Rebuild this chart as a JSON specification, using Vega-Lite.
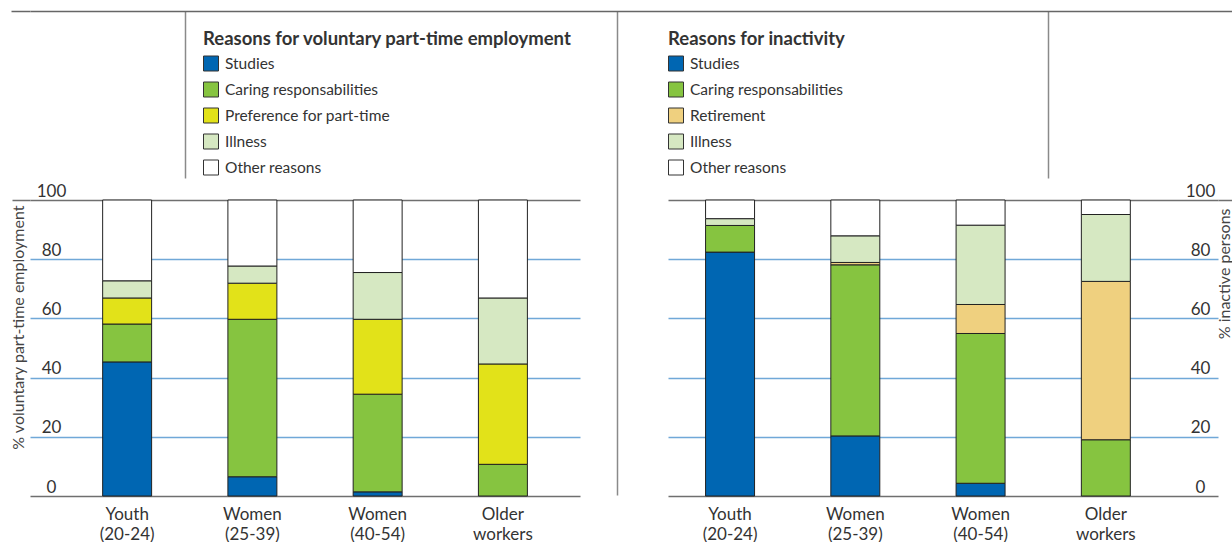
{
  "$schema": "https://vega.github.io/schema/vega-lite/v6.json",
  "padding": {"left": 9, "top": 10, "right": 0, "bottom": 0},
  "autosize": {"type": "pad"},
  "bounds": "flush",
  "spacing": 22,
  "background": "white",
  "config": {"view": {"stroke": null}, "font": "Lato"},
  "resolve": {"scale": {"x": "independent", "y": "independent", "fill": "independent"}, "legend": {"fill": "independent"}},
  "datasets": {
    "ranks": [
      {"reason": "Studies", "rank": 1},
      {"reason": "Caring responsabilities", "rank": 2},
      {"reason": "Preference for part-time", "rank": 3},
      {"reason": "Retirement", "rank": 3},
      {"reason": "Illness", "rank": 4},
      {"reason": "Other reasons", "rank": 5}
    ],
    "vpt": [
      {"group": "Youth (20-24)", "reason": "Studies", "share": 45.3},
      {"group": "Youth (20-24)", "reason": "Caring responsabilities", "share": 12.8},
      {"group": "Youth (20-24)", "reason": "Preference for part-time", "share": 8.8},
      {"group": "Youth (20-24)", "reason": "Illness", "share": 5.8},
      {"group": "Youth (20-24)", "reason": "Other reasons", "share": 27.3},
      {"group": "Women (25-39)", "reason": "Studies", "share": 6.5},
      {"group": "Women (25-39)", "reason": "Caring responsabilities", "share": 53.2},
      {"group": "Women (25-39)", "reason": "Preference for part-time", "share": 12.2},
      {"group": "Women (25-39)", "reason": "Illness", "share": 5.8},
      {"group": "Women (25-39)", "reason": "Other reasons", "share": 22.3},
      {"group": "Women (40-54)", "reason": "Studies", "share": 1.4},
      {"group": "Women (40-54)", "reason": "Caring responsabilities", "share": 33.0},
      {"group": "Women (40-54)", "reason": "Preference for part-time", "share": 25.3},
      {"group": "Women (40-54)", "reason": "Illness", "share": 15.8},
      {"group": "Women (40-54)", "reason": "Other reasons", "share": 24.5},
      {"group": "Older workers", "reason": "Caring responsabilities", "share": 10.7},
      {"group": "Older workers", "reason": "Preference for part-time", "share": 33.9},
      {"group": "Older workers", "reason": "Illness", "share": 22.3},
      {"group": "Older workers", "reason": "Other reasons", "share": 33.1}
    ],
    "inact": [
      {"group": "Youth (20-24)", "reason": "Studies", "share": 82.4},
      {"group": "Youth (20-24)", "reason": "Caring responsabilities", "share": 9.0},
      {"group": "Youth (20-24)", "reason": "Illness", "share": 2.3},
      {"group": "Youth (20-24)", "reason": "Other reasons", "share": 6.3},
      {"group": "Women (25-39)", "reason": "Studies", "share": 20.3},
      {"group": "Women (25-39)", "reason": "Caring responsabilities", "share": 57.8},
      {"group": "Women (25-39)", "reason": "Retirement", "share": 0.8},
      {"group": "Women (25-39)", "reason": "Illness", "share": 9.0},
      {"group": "Women (25-39)", "reason": "Other reasons", "share": 12.1},
      {"group": "Women (40-54)", "reason": "Studies", "share": 4.3},
      {"group": "Women (40-54)", "reason": "Caring responsabilities", "share": 50.6},
      {"group": "Women (40-54)", "reason": "Retirement", "share": 9.8},
      {"group": "Women (40-54)", "reason": "Illness", "share": 26.8},
      {"group": "Women (40-54)", "reason": "Other reasons", "share": 8.5},
      {"group": "Older workers", "reason": "Caring responsabilities", "share": 19.0},
      {"group": "Older workers", "reason": "Retirement", "share": 53.5},
      {"group": "Older workers", "reason": "Illness", "share": 22.6},
      {"group": "Older workers", "reason": "Other reasons", "share": 4.9}
    ]
  },
  "vconcat": [
    {
      "width": 1202,
      "height": 167,
      "mark": {"type": "point", "opacity": 0},
      "encoding": {
        "x": {
          "datum": 0, "type": "quantitative",
          "scale": {"domain": [0, 1202], "nice": false, "zero": false},
          "axis": {
            "orient": "top", "title": null, "labels": false, "grid": false,
            "domain": true, "domainColor": "#666", "domainWidth": 1.5,
            "values": [155, 587, 1018],
            "ticks": true, "tickColor": "#8a8a8a", "tickWidth": 1.5,
            "tickSize": {"condition": {"test": "datum.value === 587", "value": -484}, "value": -167}
          }
        },
        "y": {
          "datum": 0, "type": "quantitative",
          "scale": {"domain": [0, 1], "nice": false},
          "axis": {
            "orient": "left", "title": null, "labels": false, "grid": false, "domain": false,
            "values": [1], "ticks": true, "tickSize": 19, "tickColor": "#666", "tickWidth": 1.5
          }
        }
      }
    },
    {
      "spacing": 88,
      "bounds": "flush",
      "resolve": {"scale": {"fill": "independent", "x": "independent", "y": "independent"}, "legend": {"fill": "independent"}},
      "hconcat": [
        {
          "width": 550,
          "height": 296,
          "data": {"name": "vpt"},
          "transform": [{"lookup": "reason", "from": {"data": {"name": "ranks"}, "key": "reason", "fields": ["rank"]}}],
          "mark": {"type": "bar", "stroke": "#222", "strokeWidth": 1},
          "encoding": {
            "x": {
              "field": "group", "type": "nominal",
              "sort": ["Youth (20-24)", "Women (25-39)", "Women (40-54)", "Older workers"],
              "scale": {"paddingInner": 0.609, "paddingOuter": 0.5, "align": 0.58},
              "axis": {"title": null, "domain": false, "ticks": false, "labelAngle": 0, "labelExpr": "split(datum.label, ' ')", "labelFontSize": 17, "labelLineHeight": 20, "labelPadding": 10, "labelBaseline": "top", "labelColor": "#333"}
            },
            "y": {
              "field": "share", "type": "quantitative", "stack": "zero",
              "scale": {"domain": [0, 100], "nice": false},
              "axis": {
                "orient": "left", "values": [0, 20, 40, 60, 80, 100],
                "grid": true,
                "gridColor": {"condition": {"test": "datum.value === 0 || datum.value === 100", "value": "#6f6f6f"}, "value": "#70a8d8"},
                "gridWidth": 1.5, "domain": false,
                "ticks": true, "tickSize": 18, "tickColor": "#6f6f6f", "tickWidth": 1.5,
                "tickOpacity": {"condition": {"test": "datum.value === 100", "value": 1}, "value": 0},
                "labelAlign": "center", "labelPadding": -39, "labelBaseline": "alphabetic", "labelOffset": -4,
                "labelFlush": false, "labelOverlap": false,
                "labelFontSize": 17, "labelColor": "#333",
                "title": "% voluntary part-time employment", "titleFontSize": 16, "titleFontWeight": "normal", "titleColor": "#444",
                "titleAngle": -90, "titleX": -12, "titleY": 5, "titleAlign": "right", "titleBaseline": "middle"
              }
            },
            "fill": {
              "field": "reason", "type": "nominal",
              "scale": {"domain": ["Studies", "Caring responsabilities", "Preference for part-time", "Illness", "Other reasons"], "range": ["#0066b2", "#86c440", "#e2e219", "#d6e8c2", "#ffffff"]},
              "legend": {
                "orient": "none", "legendX": 173, "legendY": -170, "padding": 0,
                "title": "Reasons for voluntary part-time employment", "titleFontSize": 18.5, "titleFontWeight": "bold", "titleColor": "#333", "titleLimit": 600, "titlePadding": 7,
                "symbolType": "square", "symbolSize": 225, "symbolStrokeColor": "#333", "symbolStrokeWidth": 1,
                "labelFontSize": 15.5, "labelColor": "#333", "labelOffset": 6, "labelLimit": 400, "rowPadding": 6
              }
            },
            "order": {"field": "rank", "type": "quantitative", "sort": "ascending"}
          }
        },
        {
          "width": 550,
          "height": 296,
          "data": {"name": "inact"},
          "transform": [{"lookup": "reason", "from": {"data": {"name": "ranks"}, "key": "reason", "fields": ["rank"]}}],
          "mark": {"type": "bar", "stroke": "#222", "strokeWidth": 1},
          "encoding": {
            "x": {
              "field": "group", "type": "nominal",
              "sort": ["Youth (20-24)", "Women (25-39)", "Women (40-54)", "Older workers"],
              "scale": {"paddingInner": 0.609, "paddingOuter": 0.5, "align": 0.3},
              "axis": {"title": null, "domain": false, "ticks": false, "labelAngle": 0, "labelExpr": "split(datum.label, ' ')", "labelFontSize": 17, "labelLineHeight": 20, "labelPadding": 10, "labelBaseline": "top", "labelColor": "#333"}
            },
            "y": {
              "field": "share", "type": "quantitative", "stack": "zero",
              "scale": {"domain": [0, 100], "nice": false},
              "axis": {
                "orient": "right", "values": [0, 20, 40, 60, 80, 100],
                "grid": true,
                "gridColor": {"condition": {"test": "datum.value === 0 || datum.value === 100", "value": "#6f6f6f"}, "value": "#70a8d8"},
                "gridWidth": 1.5, "domain": false,
                "ticks": true, "tickSize": 14, "tickColor": "#6f6f6f", "tickWidth": 1.5,
                "tickOpacity": {"condition": {"test": "datum.value === 100", "value": 1}, "value": 0},
                "labelAlign": "center", "labelPadding": -32, "labelBaseline": "alphabetic", "labelOffset": -4,
                "labelFlush": false, "labelOverlap": false,
                "labelFontSize": 17, "labelColor": "#333",
                "title": "% inactive persons", "titleFontSize": 16, "titleFontWeight": "normal", "titleColor": "#444",
                "titleAngle": -90, "titleX": 6, "titleY": 8, "titleAlign": "right", "titleBaseline": "middle"
              }
            },
            "fill": {
              "field": "reason", "type": "nominal",
              "scale": {"domain": ["Studies", "Caring responsabilities", "Retirement", "Illness", "Other reasons"], "range": ["#0066b2", "#86c440", "#efd07f", "#d6e8c2", "#ffffff"]},
              "legend": {
                "orient": "none", "legendX": 0, "legendY": -170, "padding": 0,
                "title": "Reasons for inactivity", "titleFontSize": 18.5, "titleFontWeight": "bold", "titleColor": "#333", "titleLimit": 600, "titlePadding": 7,
                "symbolType": "square", "symbolSize": 225, "symbolStrokeColor": "#333", "symbolStrokeWidth": 1,
                "labelFontSize": 15.5, "labelColor": "#333", "labelOffset": 6, "labelLimit": 400, "rowPadding": 6
              }
            },
            "order": {"field": "rank", "type": "quantitative", "sort": "ascending"}
          }
        }
      ]
    }
  ]
}
